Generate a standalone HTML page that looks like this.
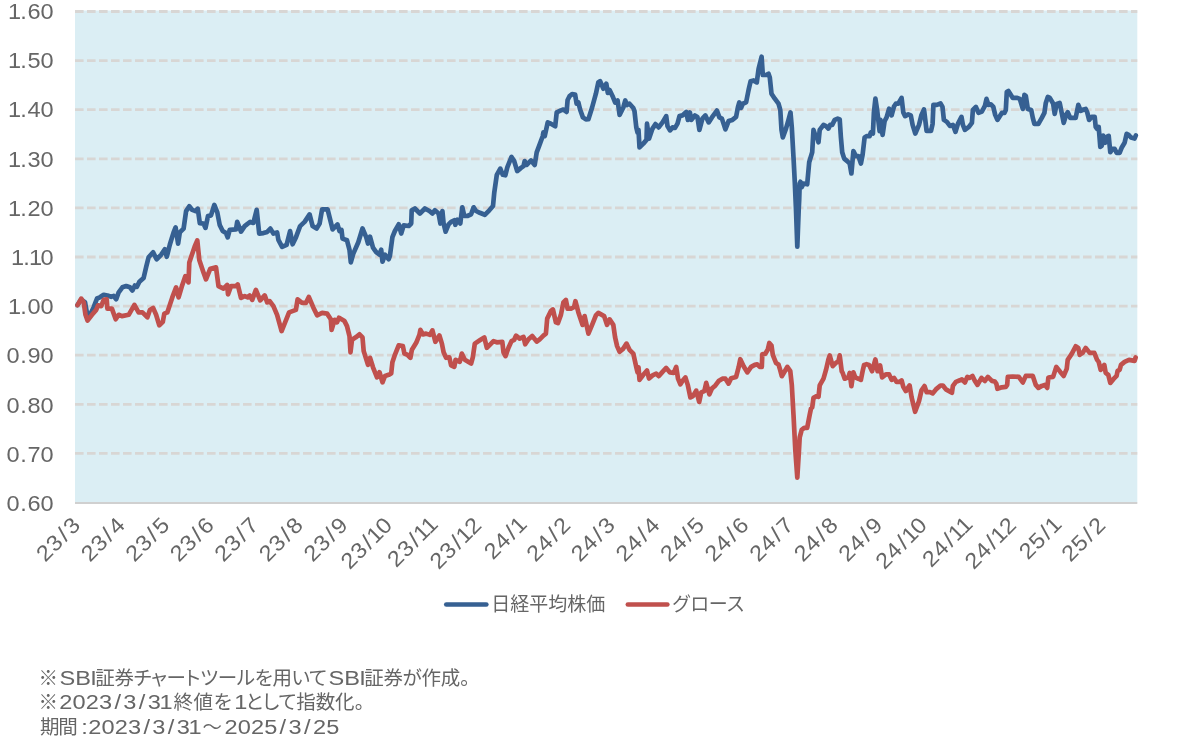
<!DOCTYPE html>
<html lang="ja"><head><meta charset="utf-8"><title>chart</title>
<style>
html,body{margin:0;padding:0;background:#fff;}
body{width:1182px;height:753px;overflow:hidden;position:relative;font-family:"Liberation Sans","Noto Sans CJK JP",sans-serif;color:#595959;}
svg{position:absolute;left:0;top:0;}
svg text{font-family:"Liberation Sans","Noto Sans CJK JP",sans-serif;fill:#666;}
.lb{font-size:22px;}
.lg{font-size:19px;}
.cj{font-size:19.5px;font-feature-settings:"palt";}
.la{font-size:20.5px;}
</style></head><body>
<svg width="1182" height="753" viewBox="0 0 1182 753">
<rect x="75" y="10.5" width="1062.3" height="492.0" fill="#dbeef4"/>
<line x1="75" x2="1137.3" y1="11.50" y2="11.50" stroke="#d8d6d4" stroke-width="2.8" stroke-dasharray="8.6 3.4"/>
<line x1="75" x2="1137.3" y1="60.60" y2="60.60" stroke="#d8d6d4" stroke-width="2.8" stroke-dasharray="8.6 3.4"/>
<line x1="75" x2="1137.3" y1="109.70" y2="109.70" stroke="#d8d6d4" stroke-width="2.8" stroke-dasharray="8.6 3.4"/>
<line x1="75" x2="1137.3" y1="158.80" y2="158.80" stroke="#d8d6d4" stroke-width="2.8" stroke-dasharray="8.6 3.4"/>
<line x1="75" x2="1137.3" y1="207.90" y2="207.90" stroke="#d8d6d4" stroke-width="2.8" stroke-dasharray="8.6 3.4"/>
<line x1="75" x2="1137.3" y1="257.00" y2="257.00" stroke="#d8d6d4" stroke-width="2.8" stroke-dasharray="8.6 3.4"/>
<line x1="75" x2="1137.3" y1="306.10" y2="306.10" stroke="#d8d6d4" stroke-width="2.8" stroke-dasharray="8.6 3.4"/>
<line x1="75" x2="1137.3" y1="355.20" y2="355.20" stroke="#d8d6d4" stroke-width="2.8" stroke-dasharray="8.6 3.4"/>
<line x1="75" x2="1137.3" y1="404.30" y2="404.30" stroke="#d8d6d4" stroke-width="2.8" stroke-dasharray="8.6 3.4"/>
<line x1="75" x2="1137.3" y1="453.40" y2="453.40" stroke="#d8d6d4" stroke-width="2.8" stroke-dasharray="8.6 3.4"/>
<line x1="75" x2="1137.3" y1="503.00" y2="503.00" stroke="#d0d0d0" stroke-width="1.8"/>
<text class="lb" transform="translate(53.5,18.9) scale(1.07,1)" x="-42.47 -31.05 -24.34 -12.19" y="0">1.60</text>
<text class="lb" transform="translate(53.5,68.1) scale(1.07,1)" x="-42.47 -31.05 -24.34 -12.19" y="0">1.50</text>
<text class="lb" transform="translate(53.5,117.3) scale(1.07,1)" x="-42.47 -31.05 -24.34 -12.19" y="0">1.40</text>
<text class="lb" transform="translate(53.5,166.5) scale(1.07,1)" x="-42.47 -31.05 -24.34 -12.19" y="0">1.30</text>
<text class="lb" transform="translate(53.5,215.7) scale(1.07,1)" x="-42.47 -31.05 -24.34 -12.19" y="0">1.20</text>
<text class="lb" transform="translate(53.5,264.9) scale(1.07,1)" x="-39.67 -28.24 -22.94 -12.19" y="0">1.10</text>
<text class="lb" transform="translate(53.5,314.1) scale(1.07,1)" x="-42.47 -31.05 -24.34 -12.19" y="0">1.00</text>
<text class="lb" transform="translate(53.5,363.3) scale(1.07,1)" x="-43.87 -31.05 -24.34 -12.19" y="0">0.90</text>
<text class="lb" transform="translate(53.5,412.5) scale(1.07,1)" x="-43.87 -31.05 -24.34 -12.19" y="0">0.80</text>
<text class="lb" transform="translate(53.5,461.7) scale(1.07,1)" x="-43.87 -31.05 -24.34 -12.19" y="0">0.70</text>
<text class="lb" transform="translate(53.5,510.9) scale(1.07,1)" x="-43.87 -31.05 -24.34 -12.19" y="0">0.60</text>
<text class="lb" transform="translate(81.8,526.2) rotate(-45) scale(1.07,1)" x="-48.27 -35.37 -20.91 -12.56" y="0">23/3</text>
<text class="lb" transform="translate(126.4,526.2) rotate(-45) scale(1.07,1)" x="-48.27 -35.37 -20.91 -12.56" y="0">23/4</text>
<text class="lb" transform="translate(170.9,526.2) rotate(-45) scale(1.07,1)" x="-48.27 -35.37 -20.91 -12.56" y="0">23/5</text>
<text class="lb" transform="translate(215.5,526.2) rotate(-45) scale(1.07,1)" x="-48.27 -35.37 -20.91 -12.56" y="0">23/6</text>
<text class="lb" transform="translate(260.1,526.2) rotate(-45) scale(1.07,1)" x="-48.27 -35.37 -20.91 -12.56" y="0">23/7</text>
<text class="lb" transform="translate(304.6,526.2) rotate(-45) scale(1.07,1)" x="-48.27 -35.37 -20.91 -12.56" y="0">23/8</text>
<text class="lb" transform="translate(349.2,526.2) rotate(-45) scale(1.07,1)" x="-48.27 -35.37 -20.91 -12.56" y="0">23/9</text>
<text class="lb" transform="translate(393.8,526.2) rotate(-45) scale(1.07,1)" x="-58.36 -45.46 -31.00 -24.06 -12.56" y="0">23/10</text>
<text class="lb" transform="translate(438.4,526.2) rotate(-45) scale(1.07,1)" x="-55.56 -42.66 -28.20 -21.26 -11.16" y="0">23/11</text>
<text class="lb" transform="translate(482.9,526.2) rotate(-45) scale(1.07,1)" x="-58.36 -45.46 -31.00 -24.06 -12.56" y="0">23/12</text>
<text class="lb" transform="translate(527.5,526.2) rotate(-45) scale(1.07,1)" x="-45.46 -32.56 -18.10 -11.16" y="0">24/1</text>
<text class="lb" transform="translate(572.1,526.2) rotate(-45) scale(1.07,1)" x="-48.27 -35.37 -20.91 -12.56" y="0">24/2</text>
<text class="lb" transform="translate(616.6,526.2) rotate(-45) scale(1.07,1)" x="-48.27 -35.37 -20.91 -12.56" y="0">24/3</text>
<text class="lb" transform="translate(661.2,526.2) rotate(-45) scale(1.07,1)" x="-48.27 -35.37 -20.91 -12.56" y="0">24/4</text>
<text class="lb" transform="translate(705.8,526.2) rotate(-45) scale(1.07,1)" x="-48.27 -35.37 -20.91 -12.56" y="0">24/5</text>
<text class="lb" transform="translate(750.3,526.2) rotate(-45) scale(1.07,1)" x="-48.27 -35.37 -20.91 -12.56" y="0">24/6</text>
<text class="lb" transform="translate(794.9,526.2) rotate(-45) scale(1.07,1)" x="-48.27 -35.37 -20.91 -12.56" y="0">24/7</text>
<text class="lb" transform="translate(839.5,526.2) rotate(-45) scale(1.07,1)" x="-48.27 -35.37 -20.91 -12.56" y="0">24/8</text>
<text class="lb" transform="translate(884.1,526.2) rotate(-45) scale(1.07,1)" x="-48.27 -35.37 -20.91 -12.56" y="0">24/9</text>
<text class="lb" transform="translate(928.6,526.2) rotate(-45) scale(1.07,1)" x="-58.36 -45.46 -31.00 -24.06 -12.56" y="0">24/10</text>
<text class="lb" transform="translate(973.2,526.2) rotate(-45) scale(1.07,1)" x="-55.56 -42.66 -28.20 -21.26 -11.16" y="0">24/11</text>
<text class="lb" transform="translate(1017.8,526.2) rotate(-45) scale(1.07,1)" x="-58.36 -45.46 -31.00 -24.06 -12.56" y="0">24/12</text>
<text class="lb" transform="translate(1062.3,526.2) rotate(-45) scale(1.07,1)" x="-45.46 -32.56 -18.10 -11.16" y="0">25/1</text>
<text class="lb" transform="translate(1106.9,526.2) rotate(-45) scale(1.07,1)" x="-48.27 -35.37 -20.91 -12.56" y="0">25/2</text>
<polyline fill="none" stroke="#366092" stroke-width="4.7" stroke-linejoin="round" stroke-linecap="round" points="77.5,305.0 81.2,299.7 85.0,302.2 87.0,313.5 90.0,314.7 93.7,307.2 97.0,298.5 99.9,297.3 103.7,294.8 107.4,295.5 111.2,296.8 113.7,296.0 116.2,299.2 118.7,292.3 122.4,287.3 126.2,286.0 129.9,287.3 132.4,290.5 134.9,285.5 136.9,286.8 139.4,281.8 143.6,278.0 146.1,267.3 148.6,257.3 153.1,252.3 156.6,259.3 161.1,254.8 164.8,249.3 166.8,256.8 169.8,244.8 173.6,232.4 175.6,227.4 178.1,243.6 179.8,232.4 183.6,228.6 186.1,211.1 189.3,206.2 192.3,209.9 195.5,211.1 197.8,208.7 199.8,223.1 203.5,223.6 205.5,227.9 208.0,216.1 211.0,215.4 214.3,204.9 217.3,212.4 219.7,224.9 222.7,231.1 226.0,233.1 227.7,237.4 229.7,229.9 236.0,229.4 237.2,221.9 241.0,231.6 244.7,226.1 247.2,224.1 250.2,221.9 253.4,222.9 256.7,209.9 259.2,233.6 263.4,233.1 267.2,231.9 270.4,228.6 273.4,233.6 277.1,232.4 278.4,239.8 282.1,246.8 286.6,244.8 290.1,231.1 292.6,244.3 295.9,237.4 300.1,226.1 304.6,221.9 309.6,214.4 312.6,226.1 316.6,228.6 319.6,223.6 322.1,209.4 327.6,209.4 329.6,217.4 332.6,229.4 337.5,224.4 339.5,231.1 341.5,229.9 342.5,238.6 347.0,240.3 349.5,249.8 350.8,262.3 353.3,253.6 358.3,242.3 362.5,228.5 366.2,237.2 368.0,243.5 370.0,236.7 373.0,247.7 376.2,252.2 379.5,254.7 381.2,249.7 382.5,261.7 385.0,254.7 388.7,259.2 389.9,256.0 392.4,237.2 394.9,231.0 398.7,224.3 401.2,233.5 403.7,225.3 408.7,226.0 411.2,223.5 411.7,210.3 414.9,208.5 419.9,213.5 424.9,208.5 429.4,211.0 432.4,213.5 434.9,210.3 438.6,213.5 440.4,223.5 442.4,211.0 443.6,223.5 445.6,231.7 448.6,224.3 451.1,221.8 454.3,220.3 455.3,224.8 457.3,219.8 460.3,223.5 462.3,207.3 464.3,216.0 467.3,216.0 471.1,214.3 473.6,207.3 476.1,211.0 479.8,212.8 484.8,214.8 489.3,210.3 493.0,206.0 494.3,192.3 496.8,174.8 500.3,168.6 502.8,174.8 505.3,175.3 507.3,167.4 511.5,156.9 514.2,161.1 517.2,171.1 521.0,167.9 523.5,166.1 524.7,161.1 526.7,164.9 531.0,160.4 534.7,164.9 536.7,152.4 539.7,144.4 542.7,136.2 543.4,132.4 544.7,136.2 547.7,122.4 550.9,123.7 555.2,126.2 556.7,112.4 560.9,110.4 563.4,109.5 566.6,111.9 567.6,100.0 569.6,96.2 572.1,94.2 575.1,94.5 576.6,103.7 578.4,102.5 580.1,109.5 582.9,117.4 585.9,119.4 588.4,119.2 592.1,107.5 595.9,93.7 598.3,82.5 600.1,81.2 603.3,88.7 606.3,83.7 607.8,93.0 609.6,90.0 612.6,96.2 615.1,102.5 617.6,100.5 619.6,114.9 623.3,107.5 625.3,100.5 627.0,105.0 629.5,103.7 633.3,108.0 634.5,111.2 636.3,127.4 637.5,132.4 638.5,129.9 639.5,147.4 643.3,143.6 646.5,139.9 647.0,123.7 649.0,138.7 652.5,128.6 655.5,124.1 658.7,127.4 662.5,122.4 666.2,116.1 667.5,126.1 670.0,130.4 672.5,127.4 675.0,127.9 677.5,123.6 679.5,116.1 682.4,115.4 686.2,111.9 687.9,119.9 689.9,112.4 691.2,119.9 694.9,115.4 697.4,116.9 699.4,129.9 702.4,118.6 705.4,115.4 708.7,122.4 711.9,117.4 716.9,110.6 719.4,117.4 721.9,118.6 725.4,129.4 728.6,121.1 732.4,119.9 736.1,116.9 737.9,107.4 739.3,102.4 741.1,107.9 742.8,103.7 746.1,102.4 748.6,89.9 750.6,81.2 753.6,80.4 756.8,82.4 758.6,68.7 761.6,56.7 762.8,75.0 766.1,75.0 768.5,73.7 769.8,77.5 771.5,93.7 774.8,98.7 778.5,103.7 780.3,109.9 781.5,129.9 782.8,137.4 786.0,128.6 788.5,119.9 790.5,112.4 791.8,127.4 793.5,157.3 794.8,182.3 796.0,209.7 797.3,246.7 798.7,209.7 799.2,199.7 799.7,183.5 800.5,181.8 801.7,187.3 803.5,183.5 807.2,184.3 809.2,162.3 812.2,152.3 813.5,129.9 815.2,134.9 817.2,137.4 818.5,142.3 819.7,129.9 823.5,124.9 826.0,126.1 828.4,128.6 830.2,124.9 832.2,124.9 834.7,119.9 837.7,118.6 839.7,119.4 840.9,137.4 842.2,152.3 844.2,158.6 847.2,161.1 849.7,163.6 851.4,173.5 853.4,151.1 855.9,156.1 858.4,156.1 860.9,163.6 862.6,154.8 864.6,137.4 866.6,136.1 869.6,136.1 870.9,132.4 872.9,133.6 873.9,112.4 875.4,98.7 877.1,109.9 879.6,131.1 880.4,119.9 882.6,134.9 884.6,121.1 886.6,117.4 889.1,108.7 891.6,115.4 894.1,106.2 895.8,103.7 898.3,103.7 901.6,97.9 903.3,112.4 905.1,116.1 908.3,114.4 910.8,115.4 912.6,124.9 915.3,133.6 919.0,124.9 921.5,114.9 924.0,109.4 926.6,130.9 931.0,130.9 932.6,123.9 933.4,104.9 936.9,104.9 940.5,103.5 942.5,106.9 943.9,119.9 946.9,121.9 949.9,125.9 952.9,124.9 955.5,131.9 957.9,123.9 961.5,116.9 962.9,124.9 964.9,129.9 968.9,126.9 971.9,122.9 972.9,109.9 975.9,106.9 978.5,112.9 981.9,111.5 984.9,105.9 986.5,98.9 988.5,104.9 990.9,104.3 993.3,106.9 995.2,114.9 997.4,119.9 1001.8,112.9 1004.4,112.9 1005.8,109.9 1006.8,91.9 1008.4,90.9 1012.8,97.9 1017.2,97.9 1019.8,98.9 1022.8,108.9 1024.4,94.9 1025.8,95.9 1027.8,108.9 1031.2,109.9 1032.8,117.9 1034.4,123.9 1038.4,123.9 1041.8,117.9 1044.4,112.9 1045.8,102.9 1047.8,96.9 1049.8,97.9 1053.1,103.5 1054.7,113.9 1056.7,103.9 1059.7,102.9 1061.7,112.9 1063.7,122.9 1066.3,114.3 1067.7,112.3 1070.3,117.9 1075.7,117.9 1078.3,104.9 1080.7,110.9 1083.7,109.5 1085.7,108.9 1087.1,111.9 1089.1,119.9 1091.7,116.9 1094.7,116.9 1095.7,126.9 1097.1,128.9 1098.7,126.9 1100.3,146.8 1101.7,145.8 1103.1,135.5 1105.1,142.8 1106.7,136.9 1108.7,135.9 1110.3,152.2 1112.6,148.8 1114.6,148.8 1116.6,152.8 1119.6,152.8 1121.6,147.8 1124.6,142.8 1126.6,133.9 1128.6,134.9 1131.0,137.5 1134.6,138.5 1135.8,135.5"/>
<polyline fill="none" stroke="#c0504d" stroke-width="4.7" stroke-linejoin="round" stroke-linecap="round" points="77.5,305.1 81.2,298.6 83.7,302.4 85.5,314.8 87.5,320.6 92.0,314.8 96.2,309.9 98.0,305.4 101.2,306.1 103.7,299.9 106.7,299.4 107.4,308.6 111.9,308.6 115.7,319.3 118.7,314.8 121.9,316.1 128.7,314.8 134.4,304.9 138.6,312.4 142.4,312.4 147.4,317.3 149.9,309.9 153.1,307.9 156.1,314.8 159.3,325.3 162.8,321.8 164.3,313.6 167.3,312.4 172.3,297.4 176.1,287.4 178.6,297.4 182.3,284.9 185.3,276.2 188.5,282.4 189.3,262.4 194.8,246.2 197.3,240.5 199.3,259.9 203.5,272.4 206.0,279.4 210.3,268.7 216.0,267.4 218.5,286.1 223.5,288.6 227.2,284.9 228.0,294.4 231.0,286.1 236.0,286.1 237.7,284.4 241.0,297.9 244.7,296.1 247.7,297.4 249.7,295.6 252.2,299.9 255.9,289.9 260.2,300.4 264.7,295.4 267.2,302.4 269.7,301.1 273.4,306.1 277.1,314.8 281.6,331.1 284.6,323.6 289.1,312.4 295.9,309.9 297.6,299.4 302.1,302.9 305.9,302.9 308.8,296.9 313.3,307.4 317.1,315.3 322.1,312.9 327.1,313.6 330.8,319.3 331.6,329.8 334.6,319.8 337.0,322.3 339.0,317.8 344.5,321.1 347.0,326.1 349.5,336.1 350.5,352.3 352.0,339.8 355.8,337.3 359.5,334.3 362.5,337.4 363.7,351.1 368.0,364.8 370.0,357.8 373.0,367.3 377.0,377.3 379.5,372.3 382.5,382.3 385.0,376.0 388.7,374.8 391.2,373.5 392.4,362.3 394.9,354.8 398.7,345.3 402.9,346.1 404.4,353.6 407.4,354.8 410.4,357.8 411.9,349.8 416.2,342.8 419.4,334.9 420.4,329.9 422.9,334.4 426.1,333.6 429.9,334.9 432.4,330.4 435.4,341.8 439.4,335.4 441.9,343.6 443.6,352.3 446.1,357.8 449.3,357.3 451.1,365.3 454.3,366.8 455.6,359.8 459.8,361.8 461.8,353.6 464.8,359.8 471.1,363.6 472.8,357.3 474.8,343.6 479.8,340.3 484.3,337.4 486.8,347.8 489.8,344.8 493.5,341.1 496.8,342.3 502.3,341.8 503.5,352.3 505.5,356.1 508.5,347.8 511.5,341.1 514.2,339.8 516.0,335.6 519.7,338.6 523.5,336.9 525.2,344.3 528.5,339.3 532.2,336.1 536.7,341.6 539.7,339.3 543.4,335.6 545.9,333.6 547.2,318.6 550.9,311.1 552.9,309.4 555.9,322.4 557.9,323.1 560.9,314.9 563.4,302.4 565.9,299.9 567.6,308.7 570.9,308.7 574.1,306.9 575.4,301.2 578.4,312.4 582.6,324.9 584.6,316.1 588.4,333.6 592.1,324.9 595.9,315.4 598.3,312.9 604.1,316.1 607.1,324.9 609.6,319.4 613.3,324.9 615.1,337.4 617.1,346.1 619.6,351.8 623.3,348.6 626.5,343.6 629.5,349.8 633.3,353.6 636.3,367.3 637.5,372.3 638.5,367.3 639.5,379.8 643.3,374.8 647.0,370.5 649.0,378.5 652.5,375.4 656.2,373.7 658.7,376.2 662.5,371.9 666.2,367.9 670.0,372.4 673.7,372.9 676.2,366.9 678.0,378.7 680.4,384.4 682.4,381.1 685.4,377.4 687.9,385.4 690.4,397.4 692.9,396.1 696.2,390.6 699.2,401.9 701.2,392.4 704.4,391.1 706.2,382.9 709.4,394.4 711.9,388.6 715.4,385.4 718.6,381.1 722.4,378.7 725.4,378.7 728.6,383.6 731.1,378.2 736.1,376.9 738.6,367.4 740.3,359.2 743.6,366.2 747.3,372.4 751.1,366.9 754.8,364.9 757.3,364.4 759.8,366.9 761.8,366.9 762.3,354.4 765.3,353.7 767.8,349.5 769.3,343.0 771.5,345.5 772.8,354.9 776.0,362.9 778.5,364.4 779.8,368.7 781.8,376.2 784.8,371.2 787.3,366.9 790.3,371.2 791.8,384.9 793.5,414.8 795.3,449.8 797.3,477.7 799.0,449.8 799.7,437.3 801.7,429.8 804.2,427.8 807.2,427.8 809.7,414.8 811.0,408.6 812.2,407.4 813.5,397.9 816.7,396.1 818.5,396.9 819.7,385.4 823.5,378.7 826.0,369.9 828.4,359.4 829.7,355.4 832.7,366.2 835.9,362.9 838.4,361.2 839.7,355.4 841.7,371.2 842.7,372.9 844.7,378.7 848.4,377.4 849.7,372.9 851.4,386.1 853.4,372.4 855.2,377.4 858.4,378.7 860.9,379.9 862.6,371.2 864.1,364.9 866.6,364.2 869.1,364.9 872.1,371.2 875.4,359.4 877.6,371.2 880.1,365.4 882.1,377.4 885.9,374.4 889.1,374.4 891.6,379.9 894.1,377.9 896.6,381.9 899.6,381.9 901.6,380.4 903.3,386.9 905.8,391.1 909.6,385.4 911.6,397.4 915.1,411.8 919.0,401.1 921.5,390.4 924.5,386.1 926.6,392.2 930.0,392.2 932.6,393.4 935.9,389.4 940.5,385.5 942.9,385.5 945.9,389.4 951.9,392.8 952.9,385.9 955.9,381.9 959.9,380.3 961.9,379.3 964.9,382.5 967.3,376.9 969.3,377.9 972.5,375.9 974.9,380.9 977.5,384.9 981.5,377.9 984.9,380.9 987.9,376.9 991.9,380.9 994.8,381.5 996.4,383.9 997.4,388.8 1001.8,387.3 1005.8,386.9 1007.2,384.9 1007.8,376.9 1012.8,376.5 1018.8,376.9 1022.8,382.5 1025.8,375.9 1032.8,375.9 1035.8,384.9 1038.4,387.9 1041.8,385.9 1044.8,384.9 1047.2,387.9 1048.4,377.5 1053.1,376.9 1056.3,366.9 1060.3,371.9 1063.7,375.9 1066.7,368.9 1067.7,359.9 1071.7,353.9 1075.7,346.3 1078.3,347.9 1079.7,354.9 1082.7,352.9 1085.7,347.9 1089.7,352.9 1094.3,352.9 1097.1,359.9 1098.7,361.9 1100.7,369.9 1104.3,364.9 1105.7,372.9 1108.3,374.9 1110.3,382.9 1113.6,378.9 1116.6,375.9 1117.6,370.9 1119.6,369.9 1121.0,364.9 1124.6,361.9 1129.0,359.9 1134.6,360.9 1135.6,357.5"/>
<line x1="446.3" x2="486.3" y1="604.5" y2="604.5" stroke="#366092" stroke-width="4.7" stroke-linecap="round"/>
<text class="lg" x="491.3" y="611.3">日経平均株価</text>
<line x1="627.9" x2="667.3" y1="604.5" y2="604.5" stroke="#c0504d" stroke-width="4.7" stroke-linecap="round"/>
<text class="lg" x="672" y="611.3" textLength="73" lengthAdjust="spacing">グロース</text>
<g class="notes">
<text class="cj" x="38.6" y="685.0" textLength="17.7" lengthAdjust="spacing">※</text>
<text class="la" transform="translate(59.0,685.0) scale(1.15,1)" x="0.38 14.21 27.19" y="0">SBI</text>
<text class="cj" x="95.2" y="685.0" textLength="231.9" lengthAdjust="spacing">証券チャートツールを用いて</text>
<text class="la" transform="translate(328.0,685.0) scale(1.15,1)" x="0.38 14.21 27.19" y="0">SBI</text>
<text class="cj" x="364.2" y="685.0" textLength="105.5" lengthAdjust="spacing">証券が作成。</text>
<text class="cj" x="38.4" y="709.4" textLength="17.6" lengthAdjust="spacing">※</text>
<text class="la" transform="translate(59.3,709.4) scale(1.15,1)" x="0.04 11.52 23.00 34.47 47.93 55.69 69.15 76.91 87.13" y="0">2023/3/31</text>
<text class="cj" x="173.5" y="709.4" textLength="58.2" lengthAdjust="spacing">終値を</text>
<text class="la" transform="translate(235.6,709.4) scale(1.15,1)" x="-1.22" y="0">1</text>
<text class="cj" x="245.6" y="709.4" textLength="118.6" lengthAdjust="spacing">として指数化。</text>
<text class="cj" x="39.9" y="734.4" textLength="37.9" lengthAdjust="spacing">期間</text>
<text class="la" transform="translate(80.5,734.4) scale(1.15,1)" x="0.63" y="0">:</text>
<text class="la" transform="translate(88.3,734.4) scale(1.15,1)" x="0.04 11.52 23.00 34.47 47.93 55.69 69.15 76.91 87.13" y="0">2023/3/31</text>
<text class="cj" x="202.6" y="734.4" textLength="21.7" lengthAdjust="spacing">～</text>
<text class="la" transform="translate(224.5,734.4) scale(1.15,1)" x="0.04 11.52 23.00 34.47 47.93 55.69 69.15 76.91 88.39" y="0">2025/3/25</text>
</g>
</svg>
</body></html>
